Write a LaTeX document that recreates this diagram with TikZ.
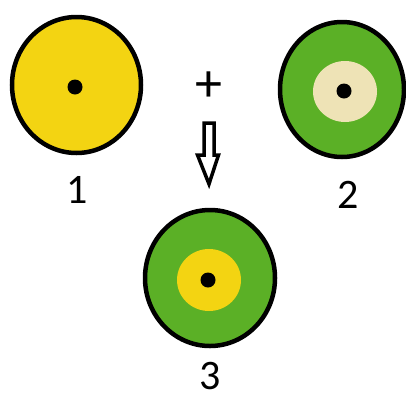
\documentclass[tikz,border=0pt]{standalone}
\usepackage{fontspec}
\setmainfont{Carlito}
\usetikzlibrary{shapes.geometric}
\definecolor{discyellow}{HTML}{F3D412}
\definecolor{discgreen}{HTML}{5BB026}
\definecolor{discbeige}{HTML}{EEE3B6}
\tikzset{
  outerdisc/.style={ellipse, draw, line width=4.5pt, inner sep=0pt},
  innerdisc/.style={ellipse, draw=none, inner sep=0pt},
  centredot/.style={circle, fill=black, inner sep=0pt, minimum size=15pt},
  numlabel/.style={anchor=base, inner sep=0pt, font=\fontsize{42}{50}\selectfont},
}

\begin{document}
\begin{tikzpicture}[x=1pt, y=-1pt]
  \useasboundingbox (0,0) rectangle (406,394);
  % disc 1
  \node[outerdisc, fill=discyellow, minimum width=129pt, minimum height=136pt] (one) at (76.5,85) {};
  \node[centredot] (onedot) at (75,87) {};
  \node[numlabel] (onelabel) at (77,203) {1};
  % disc 2
  \node[outerdisc, fill=discgreen, minimum width=124pt, minimum height=135pt] (two) at (342,89.5) {};
  \node[innerdisc, fill=discbeige, minimum width=64pt, minimum height=61pt] (twoin) at (345,91.5) {};
  \node[centredot] (twodot) at (344,91) {};
  \node[numlabel] (twolabel) at (348,208) {2};
  % disc 3
  \node[outerdisc, fill=discgreen, minimum width=130pt, minimum height=136pt] (three) at (210,278) {};
  \node[innerdisc, fill=discyellow, minimum width=64pt, minimum height=62pt] (threein) at (209,280) {};
  \node[centredot] (threedot) at (208,280) {};
  \node[numlabel] (threelabel) at (210,389) {3};
  % plus and hollow arrow
  \node[inner sep=0pt, font=\fontsize{54}{60}\selectfont] (plus) at (209,87) {+};
  \draw[line width=3.5pt, fill=white] (204,123) -- (214,123) -- (214,155) -- (218.5,155)
    -- (209,184) -- (197.5,155) -- (204,155) -- cycle;
\end{tikzpicture}
\end{document}
